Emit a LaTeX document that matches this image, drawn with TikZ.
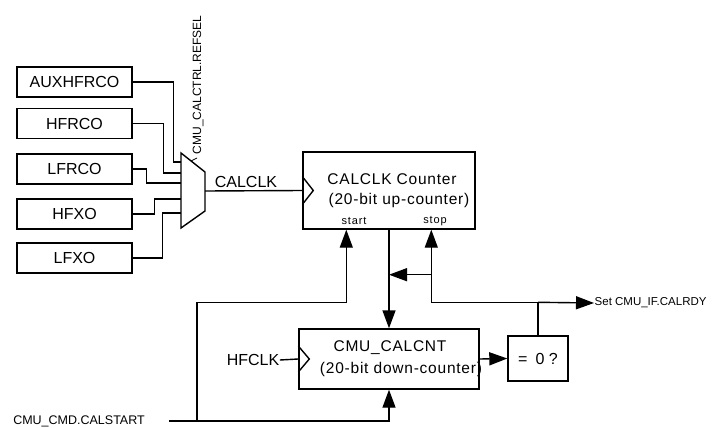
\documentclass[tikz,border=0pt]{standalone}
\usepackage{fontspec}
\setmainfont{Liberation Sans}
\usetikzlibrary{arrows.meta,calc}

\begin{document}
\begin{tikzpicture}[
    x=1pt, y=-1pt,
    line width=1.4pt,
    font=\fontsize{16}{18}\selectfont,
    box/.style={draw, inner sep=0pt},
    src/.style={box, minimum width=115pt, minimum height=30pt},
    cnt/.style={box, minimum width=#1, minimum height=60pt},
    lbl/.style={inner sep=0pt},
    wide/.style={lbl, font=\fontsize{15.5}{18}\selectfont\addfontfeatures{LetterSpace=5}},
    small/.style={lbl, font=\fontsize{11.5}{13}\selectfont},
    ar/.style={-{Triangle[length=18pt,width=13pt]}},
  ]
    \useasboundingbox (0,0) rectangle (720,428);

    % clock sources
    \node[src] (aux) at (74.5,82) {AUXHFRCO};
    \node[src] (hfrco) at (74.5,123.5) {HFRCO};
    \node[src] (lfrco) at (74.5,169) {LFRCO};
    \node[src] (hfxo) at (74.5,214) {HFXO};
    \node[src] (lfxo) at (74.5,258) {LFXO};

    % mux
    \draw (181,153) -- (205,172) -- (205,211) -- (181,228) -- cycle;
    \coordinate (m1) at (181,162);
    \coordinate (m2) at (181,173);
    \coordinate (m3) at (181,183);
    \coordinate (m4) at (181,199);
    \coordinate (m5) at (181,213);
    \coordinate (muxout) at (205,191);
    \coordinate (sel) at (191,161);
    \coordinate (selend) at (197,158);
    \node[small, font=\fontsize{12}{14}\selectfont, rotate=90, anchor=base west] (refsel) at (201,155) {CMU\_CALCTRL.REFSEL};

    \draw (aux.east) -- ++(41,0) |- (m1);
    \draw (hfrco.east) -- ++(31,0) |- (m2);
    \draw (lfrco.east) -- ++(14,0) |- (m3);
    \draw (hfxo.east) -- ++(22,0) |- (m4);
    \draw (lfxo.east) -- ++(30,0) |- (m5);
    \draw[line width=0.8pt] (sel) -- (selend);

    % up-counter
    \node[cnt=172pt, minimum height=77pt] (upcnt) at (389,190.5) {};
    \node[wide] (uptitle) at (392,179) {CALCLK Counter};
    \node[wide] (upsub) at (399,200) {(20-bit up-counter)};
    \node[small, font=\fontsize{11}{13}\selectfont\addfontfeatures{LetterSpace=8}] (start) at (354,221) {start};
    \node[small, font=\fontsize{11}{13}\selectfont\addfontfeatures{LetterSpace=8}] (stop) at (435,221) {stop};
    \coordinate (startpin) at ($(upcnt.south west)+(44,0)$);
    \coordinate (stoppin) at ($(upcnt.south west)+(129,0)$);

    \draw (muxout) -- (upcnt.west);
    \node[lbl, anchor=base] (calclk) at (246,187) {CALCLK};
    \draw ([yshift=14pt]upcnt.west) -- ++(11,14) -- ([yshift=-14pt]upcnt.west);

    % down-counter
    \node[cnt=180pt] (calcnt) at (389,359) {};
    \node[wide] (dntitle) at (390,348) {CMU\_CALCNT};
    \node[wide] (dnsub) at (401,369) {(20-bit down-counter)};
    \draw ([yshift=13pt]calcnt.west) -- ++(11,13) -- ([yshift=-13pt]calcnt.west);
    \node[lbl] (hfclk) at (253,360) {HFCLK};
    \draw (hfclk.east) -- (calcnt.west);

    \node[box, minimum width=60pt, minimum height=45pt] (iszero) at (538,358.5) {=\enspace0 ?};
    \draw[ar] (calcnt.east) -- (iszero.west);

    % start / stop
    \node[lbl, font=\fontsize{12.5}{14}\selectfont] (calstart) at (79,421) {CMU\_CMD.CALSTART};
    \coordinate (cs) at (169,421);
    \coordinate (j1) at (197,421);
    \draw[ar] (cs) -| (calcnt.south);
    \draw[ar] (j1) |- ($(startpin)+(0,73)$) -- (startpin);
    \draw[ar] (upcnt.south) -- (calcnt.north);

    \draw (iszero.north) -- ++(0,-33) coordinate (j2);
    \node[small, anchor=west] (calrdy) at (594,303) {Set CMU\_IF.CALRDY};
    \draw[ar] (j2) -- (calrdy.west);
    \draw[ar] (j2) -| (stoppin);
    \coordinate (j3) at ($(stoppin)+(0,45)$);
    \draw[ar] (j3) -- (j3 -| upcnt.south);
  \end{tikzpicture}
\end{document}
